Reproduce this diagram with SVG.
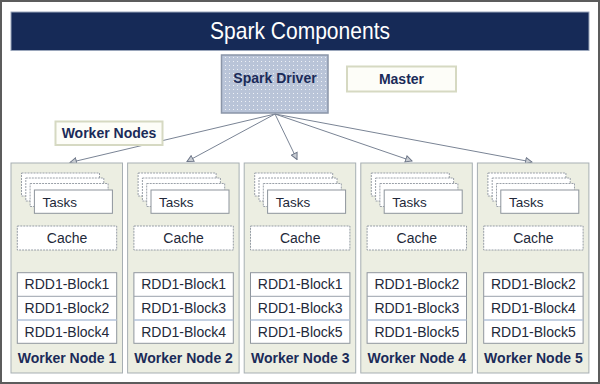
<svg xmlns="http://www.w3.org/2000/svg" width="600" height="384" viewBox="0 0 600 384">
  <defs>
    <style>
      .frame { fill: #ffffff; stroke: #5c5c5c; stroke-width: 2; }
      .title-bar { fill: #162a57; stroke: #9aa6bb; stroke-width: 1; }
      .title { font-family: "Liberation Sans", Arial, sans-serif; font-size: 24px; fill: #ffffff; text-anchor: middle; }
      .label-bold { font-family: "Liberation Sans", Arial, sans-serif; font-size: 14px; font-weight: bold; fill: #1b2b58; text-anchor: middle; }
      .label { font-family: "Liberation Sans", Arial, sans-serif; font-size: 14px; fill: #23293a; text-anchor: middle; }
      .label-start { font-family: "Liberation Sans", Arial, sans-serif; font-size: 13.5px; fill: #23293a; }
      .tag { fill: #fdfdf8; stroke: #d6d9c2; stroke-width: 2; }
      .panel { fill: #eceee2; stroke: #a7afb3; stroke-width: 1; }
      .card-back { fill: #ffffff; stroke: #9aa0a8; stroke-width: 1; stroke-dasharray: 2 1; }
      .card { fill: #ffffff; stroke: #8d949c; stroke-width: 1; }
      .cache { fill: #ffffff; stroke: #959ca5; stroke-width: 1; stroke-dasharray: 2 1; }
      .table { fill: #ffffff; stroke: #8f969e; stroke-width: 1; }
      .sep { stroke: #9aa2ac; stroke-width: 1; }
      .sep-blue { stroke: #b3c3da; stroke-width: 1.5; }
      .conn { fill: none; stroke: #7a8495; stroke-width: 1; marker-end: url(#arrow); }
    </style>
    <pattern id="dots" width="4" height="4" patternUnits="userSpaceOnUse">
      <rect width="4" height="4" fill="#b9c4d8"/>
      <rect x="1" y="1" width="1" height="1" fill="#eef1f6"/>
    </pattern>
    <marker id="arrow" viewBox="0 0 10 10" refX="9" refY="5" markerWidth="8" markerHeight="8" markerUnits="userSpaceOnUse" orient="auto">
      <path d="M1,1 L9,5 L1,9 Z" fill="#c9cdd3" stroke="#6c7587" stroke-width="1.2"/>
    </marker>
  </defs>

  <!-- outer frame -->
  <rect class="frame" x="1" y="1" width="598" height="382"/>

  <!-- title -->
  <g id="title">
    <rect class="title-bar" x="11" y="12" width="578" height="38.5"/>
    <text class="title" x="300" y="38.5" textLength="180" lengthAdjust="spacingAndGlyphs">Spark Components</text>
  </g>

  <!-- connectors from the driver to each worker -->
  <g id="connectors">
    <line class="conn" x1="275" y1="114" x2="70" y2="162.5"/>
    <line class="conn" x1="275" y1="114" x2="187" y2="161.5"/>
    <line class="conn" x1="275" y1="114" x2="297" y2="159.5"/>
    <line class="conn" x1="275" y1="114" x2="412" y2="161"/>
    <line class="conn" x1="275" y1="114" x2="532" y2="162"/>
  </g>

  <g id="spark-driver">
    <rect x="221.5" y="55" width="106.5" height="58" fill="url(#dots)" stroke="#8a95a8" stroke-width="1.5"/>
    <text class="label-bold" x="275" y="83">Spark Driver</text>
  </g>

  <g id="master">
    <rect class="tag" x="347" y="66.5" width="109" height="25"/>
    <text class="label-bold" x="401.5" y="83.5">Master</text>
  </g>

  <g id="worker-nodes-label">
    <rect class="tag" x="55.5" y="121.5" width="107" height="23.5"/>
    <text class="label-bold" x="109" y="138">Worker Nodes</text>
  </g>

  <!-- worker node 1 -->
  <g id="worker-1" transform="translate(11,0)">
    <rect class="panel" x="0" y="163" width="111.5" height="210"/>
    <rect class="card-back" x="10.5" y="173" width="78" height="23"/>
    <rect class="card-back" x="14.8" y="178" width="78" height="23"/>
    <rect class="card-back" x="19.1" y="183.5" width="78" height="23"/>
    <rect class="card" x="23.4" y="190" width="78" height="23.3"/>
    <text class="label-start" x="31.5" y="206.5">Tasks</text>
    <rect class="cache" x="6.3" y="226" width="99.4" height="24"/>
    <text class="label" x="56" y="242.7">Cache</text>
    <rect class="table" x="6.3" y="272.7" width="99.4" height="70.6"/>
    <line class="sep" x1="6.3" y1="296.3" x2="105.7" y2="296.3"/>
    <line class="sep-blue" x1="6.3" y1="320" x2="105.7" y2="320"/>
    <text class="label" x="56" y="289.3">RDD1-Block1</text>
    <text class="label" x="56" y="313.3">RDD1-Block2</text>
    <text class="label" x="56" y="336.7">RDD1-Block4</text>
    <text class="label-bold" x="56" y="362.7">Worker Node 1</text>
  </g>

  <!-- worker node 2 -->
  <g id="worker-2" transform="translate(127.6,0)">
    <rect class="panel" x="0" y="163" width="111.5" height="210"/>
    <rect class="card-back" x="10.5" y="173" width="78" height="23"/>
    <rect class="card-back" x="14.8" y="178" width="78" height="23"/>
    <rect class="card-back" x="19.1" y="183.5" width="78" height="23"/>
    <rect class="card" x="23.4" y="190" width="78" height="23.3"/>
    <text class="label-start" x="31.5" y="206.5">Tasks</text>
    <rect class="cache" x="6.3" y="226" width="99.4" height="24"/>
    <text class="label" x="56" y="242.7">Cache</text>
    <rect class="table" x="6.3" y="272.7" width="99.4" height="70.6"/>
    <line class="sep" x1="6.3" y1="296.3" x2="105.7" y2="296.3"/>
    <line class="sep-blue" x1="6.3" y1="320" x2="105.7" y2="320"/>
    <text class="label" x="56" y="289.3">RDD1-Block1</text>
    <text class="label" x="56" y="313.3">RDD1-Block3</text>
    <text class="label" x="56" y="336.7">RDD1-Block4</text>
    <text class="label-bold" x="56" y="362.7">Worker Node 2</text>
  </g>

  <!-- worker node 3 -->
  <g id="worker-3" transform="translate(244.2,0)">
    <rect class="panel" x="0" y="163" width="111.5" height="210"/>
    <rect class="card-back" x="10.5" y="173" width="78" height="23"/>
    <rect class="card-back" x="14.8" y="178" width="78" height="23"/>
    <rect class="card-back" x="19.1" y="183.5" width="78" height="23"/>
    <rect class="card" x="23.4" y="190" width="78" height="23.3"/>
    <text class="label-start" x="31.5" y="206.5">Tasks</text>
    <rect class="cache" x="6.3" y="226" width="99.4" height="24"/>
    <text class="label" x="56" y="242.7">Cache</text>
    <rect class="table" x="6.3" y="272.7" width="99.4" height="70.6"/>
    <line class="sep" x1="6.3" y1="296.3" x2="105.7" y2="296.3"/>
    <line class="sep-blue" x1="6.3" y1="320" x2="105.7" y2="320"/>
    <text class="label" x="56" y="289.3">RDD1-Block1</text>
    <text class="label" x="56" y="313.3">RDD1-Block3</text>
    <text class="label" x="56" y="336.7">RDD1-Block5</text>
    <text class="label-bold" x="56" y="362.7">Worker Node 3</text>
  </g>

  <!-- worker node 4 -->
  <g id="worker-4" transform="translate(360.8,0)">
    <rect class="panel" x="0" y="163" width="111.5" height="210"/>
    <rect class="card-back" x="10.5" y="173" width="78" height="23"/>
    <rect class="card-back" x="14.8" y="178" width="78" height="23"/>
    <rect class="card-back" x="19.1" y="183.5" width="78" height="23"/>
    <rect class="card" x="23.4" y="190" width="78" height="23.3"/>
    <text class="label-start" x="31.5" y="206.5">Tasks</text>
    <rect class="cache" x="6.3" y="226" width="99.4" height="24"/>
    <text class="label" x="56" y="242.7">Cache</text>
    <rect class="table" x="6.3" y="272.7" width="99.4" height="70.6"/>
    <line class="sep" x1="6.3" y1="296.3" x2="105.7" y2="296.3"/>
    <line class="sep-blue" x1="6.3" y1="320" x2="105.7" y2="320"/>
    <text class="label" x="56" y="289.3">RDD1-Block2</text>
    <text class="label" x="56" y="313.3">RDD1-Block3</text>
    <text class="label" x="56" y="336.7">RDD1-Block5</text>
    <text class="label-bold" x="56" y="362.7">Worker Node 4</text>
  </g>

  <!-- worker node 5 -->
  <g id="worker-5" transform="translate(477.4,0)">
    <rect class="panel" x="0" y="163" width="111.5" height="210"/>
    <rect class="card-back" x="10.5" y="173" width="78" height="23"/>
    <rect class="card-back" x="14.8" y="178" width="78" height="23"/>
    <rect class="card-back" x="19.1" y="183.5" width="78" height="23"/>
    <rect class="card" x="23.4" y="190" width="78" height="23.3"/>
    <text class="label-start" x="31.5" y="206.5">Tasks</text>
    <rect class="cache" x="6.3" y="226" width="99.4" height="24"/>
    <text class="label" x="56" y="242.7">Cache</text>
    <rect class="table" x="6.3" y="272.7" width="99.4" height="70.6"/>
    <line class="sep" x1="6.3" y1="296.3" x2="105.7" y2="296.3"/>
    <line class="sep-blue" x1="6.3" y1="320" x2="105.7" y2="320"/>
    <text class="label" x="56" y="289.3">RDD1-Block2</text>
    <text class="label" x="56" y="313.3">RDD1-Block4</text>
    <text class="label" x="56" y="336.7">RDD1-Block5</text>
    <text class="label-bold" x="56" y="362.7">Worker Node 5</text>
  </g>
</svg>
